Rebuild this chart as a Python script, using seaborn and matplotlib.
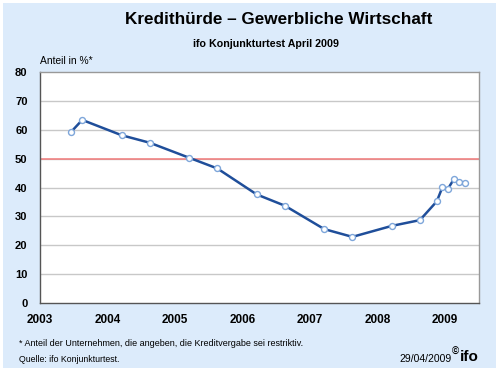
import matplotlib
matplotlib.use('Agg')
import matplotlib.pyplot as plt
import pandas as pd
import seaborn as sns
from matplotlib.patches import Rectangle

# survey months (year, month) and share of firms reporting restrictive lending (%)
years = [2003, 2003, 2004, 2004, 2005, 2005, 2006, 2006, 2007, 2007, 2008, 2008,
         2008, 2008, 2009, 2009, 2009, 2009]
months = [6, 8, 3, 8, 3, 8, 3, 8, 3, 8, 3, 8, 11, 12, 1, 2, 3, 4]
values = [59.2, 63.4, 58.1, 55.5, 50.3, 46.6, 37.6, 33.7, 25.6, 22.9, 26.7, 28.7,
          35.2, 40.1, 39.6, 42.8, 42.0, 41.6]
year_ticks = [2003, 2004, 2005, 2006, 2007, 2008, 2009]
y_ticks = [0, 10, 20, 30, 40, 50, 60, 70, 80]
threshold = 50

df = pd.DataFrame({'year': years, 'month': months, 'value': values})
df['t'] = df['year'] + (df['month'] - 0.5) / 12

sns.set_style('white')
plt.rcParams['font.family'] = ['Liberation Sans', 'DejaVu Sans']
plt.rcParams['text.color'] = 'black'
plt.rcParams['xtick.color'] = 'black'
plt.rcParams['ytick.color'] = 'black'

px = 1/100
fig = plt.figure(figsize=(500*px, 371*px), dpi=100)
fig.patch.set_facecolor('white')
fig.patches.append(Rectangle((3/500, 3/371), 493/500, 365/371, transform=fig.transFigure,
                             facecolor='#DCEBFB', edgecolor='none', zorder=-5))

ax = fig.add_axes([40/500, 1-303/371, 439/500, 231/371])
ax.set_facecolor('white')
for y in y_ticks[1:-1]:
    ax.axhline(y, color='#C8C8C8', lw=1, zorder=1)
ax.axhline(threshold, color='#F27A7A', lw=1.1, zorder=2)
sns.lineplot(data=df, x='t', y='value', ax=ax, color='#1F4E9A', lw=1.8, zorder=3,
             marker='o', markersize=4.3, markerfacecolor='white', markeredgecolor='#7EA6DA',
             markeredgewidth=1)

ax.set_xlim(2003, 2009.5)
ax.set_ylim(0, 80)
ax.set_xticks(year_ticks)
ax.set_yticks(y_ticks)
ax.set_xticklabels([str(y) for y in year_ticks], fontsize=8.5, fontweight='bold')
ax.set_yticklabels([str(y) for y in y_ticks], fontsize=8, fontweight='bold')
ax.tick_params(axis='x', direction='in', length=3, width=1, color='#666666', pad=8)
ax.tick_params(axis='y', length=0, pad=9)
ax.set_xlabel('')
ax.set_ylabel('')
for s in ['left', 'bottom']:
    ax.spines[s].set_color('#555555')
for s in ['top', 'right']:
    ax.spines[s].set_color('#999999')
for s in ax.spines.values():
    s.set_linewidth(1)

fig.text(279/500, 1-20/371, 'Kredithürde – Gewerbliche Wirtschaft', ha='center', va='center',
         fontsize=12.3, fontweight='bold')
fig.text(266/500, 1-44/371, 'ifo Konjunkturtest April 2009', ha='center', va='center',
         fontsize=7.7, fontweight='bold')
fig.text(40/500, 1-61/371, 'Anteil in %*', ha='left', va='center', fontsize=7.4)
fig.text(19/500, 1-344/371, '* Anteil der Unternehmen, die angeben, die Kreditvergabe sei restriktiv.',
         ha='left', va='center', fontsize=6.5)
fig.text(19/500, 1-359/371, 'Quelle: ifo Konjunkturtest.', ha='left', va='center', fontsize=6.3)
fig.text(452/500, 1-359/371, '29/04/2009', ha='right', va='center', fontsize=7.5)
fig.text(452/500, 1-352/371, '©', ha='left', va='center', fontsize=7, fontweight='bold')
fig.text(479/500, 1-357/371, 'ifo', ha='right', va='center', fontsize=11, fontweight='bold')

fig.savefig('out.png', dpi=100)
